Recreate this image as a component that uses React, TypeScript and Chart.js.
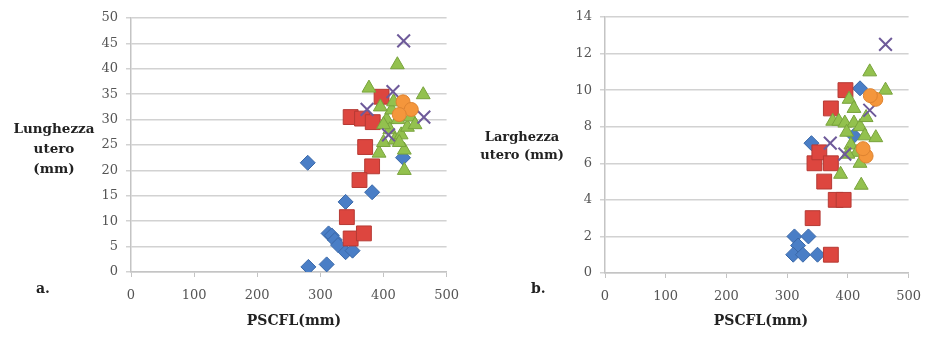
import React, { useEffect, useRef } from "react";
import { Chart, registerables } from "chart.js";

Chart.register(...registerables);

// ---------- Data ----------
// Panel a: Lunghezza utero (mm) vs PSCFL (mm)
const lungBlue: [number, number][] = [
  [280, 21.5], [281, 1], [310, 1.5], [313, 7.6], [318, 7.2], [323, 6.3], [328, 5.3],
  [340, 3.9], [351, 4.2], [340, 13.8], [382, 15.7], [431, 22.5],
];
const lungRed: [number, number][] = [
  [348, 30.5], [366, 30.2], [383, 29.5], [397, 34.5], [371, 24.6], [382, 20.8],
  [362, 18.1], [342, 10.8], [348, 6.6], [369, 7.6],
];
const lungGreen: [number, number][] = [
  [422, 40.8], [377, 36.2], [463, 34.9], [433, 20], [393, 23.4], [400, 25.5],
  [405, 30], [413, 31.9], [410, 28], [418, 26], [423, 30], [428, 27], [433, 24],
  [438, 28.5], [443, 30.5], [400, 29], [395, 32.5], [416, 33.5], [425, 25.5], [450, 29],
];
const lungPurple: [number, number][] = [
  [432, 45.5], [374, 32], [464, 30.5], [408, 27], [415, 35.5],
];
const lungOrange: [number, number][] = [[431, 33.5], [444, 32], [425, 31]];

// Panel b: Larghezza utero (mm) vs PSCFL (mm)
const largBlue: [number, number][] = [
  [312, 2], [335, 2], [318, 1.5], [310, 1], [326, 1], [350, 1], [340, 7.1], [420, 10.1], [410, 7.5],
];
const largRed: [number, number][] = [
  [396, 10], [372, 9], [345, 6], [353, 6.6], [372, 6], [361, 5], [380, 4], [393, 4], [342, 3], [372, 1],
];
const largGreen: [number, number][] = [
  [436, 11], [462, 10], [402, 9.5], [375, 8.3], [385, 8.3], [395, 8.2], [410, 8.2],
  [420, 8], [428, 7.5], [446, 7.4], [405, 7], [415, 6.6], [420, 6], [400, 6.5],
  [388, 5.4], [422, 4.8], [410, 9], [398, 7.7], [430, 8.5],
];
const largPurple: [number, number][] = [[462, 12.5], [371, 7.1], [436, 8.9], [395, 6.5]];
const largOrange: [number, number][] = [[446, 9.5], [437, 9.7], [430, 6.4], [425, 6.8]];

const xTicks = [0, 100, 200, 300, 400, 500];
const lungTicks = [0, 5, 10, 15, 20, 25, 30, 35, 40, 45, 50];
const largTicks = [0, 2, 4, 6, 8, 10, 12, 14];

// ---------- Chart ----------
type Series = [number, number][];

const toPts = (s: Series) => s.map(([x, y]) => ({ x, y }));

function makeDatasets(blue: Series, red: Series, green: Series, purple: Series, orange: Series) {
  return [
    {
      label: "blue", data: toPts(blue), pointStyle: "rectRot", pointRadius: 7.5,
      backgroundColor: "#4a7ec6", borderColor: "#3a68a8", borderWidth: 1, order: 5,
    },
    {
      label: "red", data: toPts(red), pointStyle: "rect", pointRadius: 10.5,
      backgroundColor: "#dd463f", borderColor: "#b63a34", borderWidth: 1, order: 4,
    },
    {
      label: "green", data: toPts(green), pointStyle: "triangle", pointRadius: 8,
      backgroundColor: "#93c14e", borderColor: "#78a33c", borderWidth: 1, order: 3,
    },
    {
      label: "purple", data: toPts(purple), pointStyle: "crossRot", pointRadius: 9,
      backgroundColor: "#6e5a9a", borderColor: "#6e5a9a", borderWidth: 2, order: 2,
    },
    {
      label: "orange", data: toPts(orange), pointStyle: "circle", pointRadius: 7,
      backgroundColor: "#f4963c", borderColor: "#de8330", borderWidth: 1, order: 1,
    },
  ];
}

type PanelProps = {
  width: number;
  height: number;
  datasets: any[];
  yTicks: number[];
  yAxisWidth: number;
  padTop: number;
  padRight: number;
  xAxisHeight: number;
};

function ScatterPanel(p: PanelProps) {
  const ref = useRef<HTMLCanvasElement | null>(null);
  useEffect(() => {
    if (!ref.current) return;
    const yMin = p.yTicks[0];
    const yMax = p.yTicks[p.yTicks.length - 1];
    const yStep = p.yTicks[1] - p.yTicks[0];
    const tickFont = { family: "'DejaVu Serif', serif", size: 13 };
    const chart = new Chart(ref.current, {
      type: "scatter",
      data: { datasets: p.datasets },
      options: {
        animation: false,
        responsive: false,
        maintainAspectRatio: false,
        layout: { padding: { left: 0, top: p.padTop, right: p.padRight, bottom: 0 } },
        plugins: { legend: { display: false }, tooltip: { enabled: false } },
        scales: {
          x: {
            type: "linear",
            min: xTicks[0],
            max: xTicks[xTicks.length - 1],
            ticks: { stepSize: xTicks[1] - xTicks[0], color: "#555555", font: tickFont, padding: 11, maxRotation: 0 },
            grid: { drawOnChartArea: false, drawTicks: true, tickLength: 5, color: "#c4c4c4", lineWidth: 1 },
            border: { display: true, color: "#c4c4c4", width: 1.5 },
            afterFit: (s: any) => { s.height = p.xAxisHeight; },
          },
          y: {
            type: "linear",
            min: yMin,
            max: yMax,
            ticks: { stepSize: yStep, color: "#555555", font: tickFont, padding: 8 },
            grid: { drawOnChartArea: true, drawTicks: true, tickLength: 5, color: "#d2d2d2", lineWidth: 1.5 },
            border: { display: true, color: "#c4c4c4", width: 1.5 },
            afterFit: (s: any) => { s.width = p.yAxisWidth; },
          },
        },
      },
    } as any);
    return () => chart.destroy();
  }, []);
  return (
    <canvas
      ref={ref}
      width={p.width}
      height={p.height}
      style={{ width: p.width, height: p.height, display: "block" }}
    />
  );
}

const bold: React.CSSProperties = {
  position: "absolute",
  fontFamily: "'DejaVu Serif', serif",
  fontWeight: "bold",
  color: "#222",
  whiteSpace: "nowrap",
};

export default function App() {
  return (
    <div style={{ position: "absolute", left: 0, top: 0, width: 932, height: 338, background: "#fff", overflow: "hidden" }}>
      <div style={{ position: "absolute", left: 0, top: 0 }}>
        <ScatterPanel
          width={470}
          height={338}
          datasets={makeDatasets(lungBlue, lungRed, lungGreen, lungPurple, lungOrange)}
          yTicks={lungTicks}
          yAxisWidth={131}
          padTop={18}
          padRight={13}
          xAxisHeight={66}
        />
      </div>
      <div style={{ position: "absolute", left: 470, top: 0 }}>
        <ScatterPanel
          width={462}
          height={338}
          datasets={makeDatasets(largBlue, largRed, largGreen, largPurple, largOrange)}
          yTicks={largTicks}
          yAxisWidth={135}
          padTop={17}
          padRight={15}
          xAxisHeight={65}
        />
      </div>
      <div style={{ ...bold, left: 2, top: 118, width: 104, textAlign: "center", fontSize: 13.5, lineHeight: "20px" }}>
        Lunghezza<br />utero<br />(mm)
      </div>
      <div style={{ ...bold, left: 472, top: 128, width: 100, textAlign: "center", fontSize: 13, lineHeight: "18px" }}>
        Larghezza<br />utero (mm)
      </div>
      <div style={{ ...bold, left: 36, top: 280, fontSize: 14 }}>a.</div>
      <div style={{ ...bold, left: 531, top: 280, fontSize: 14 }}>b.</div>
      <div style={{ ...bold, left: 194, top: 312, width: 200, textAlign: "center", fontSize: 14 }}>PSCFL(mm)</div>
      <div style={{ ...bold, left: 661, top: 312, width: 200, textAlign: "center", fontSize: 14 }}>PSCFL(mm)</div>
    </div>
  );
}
